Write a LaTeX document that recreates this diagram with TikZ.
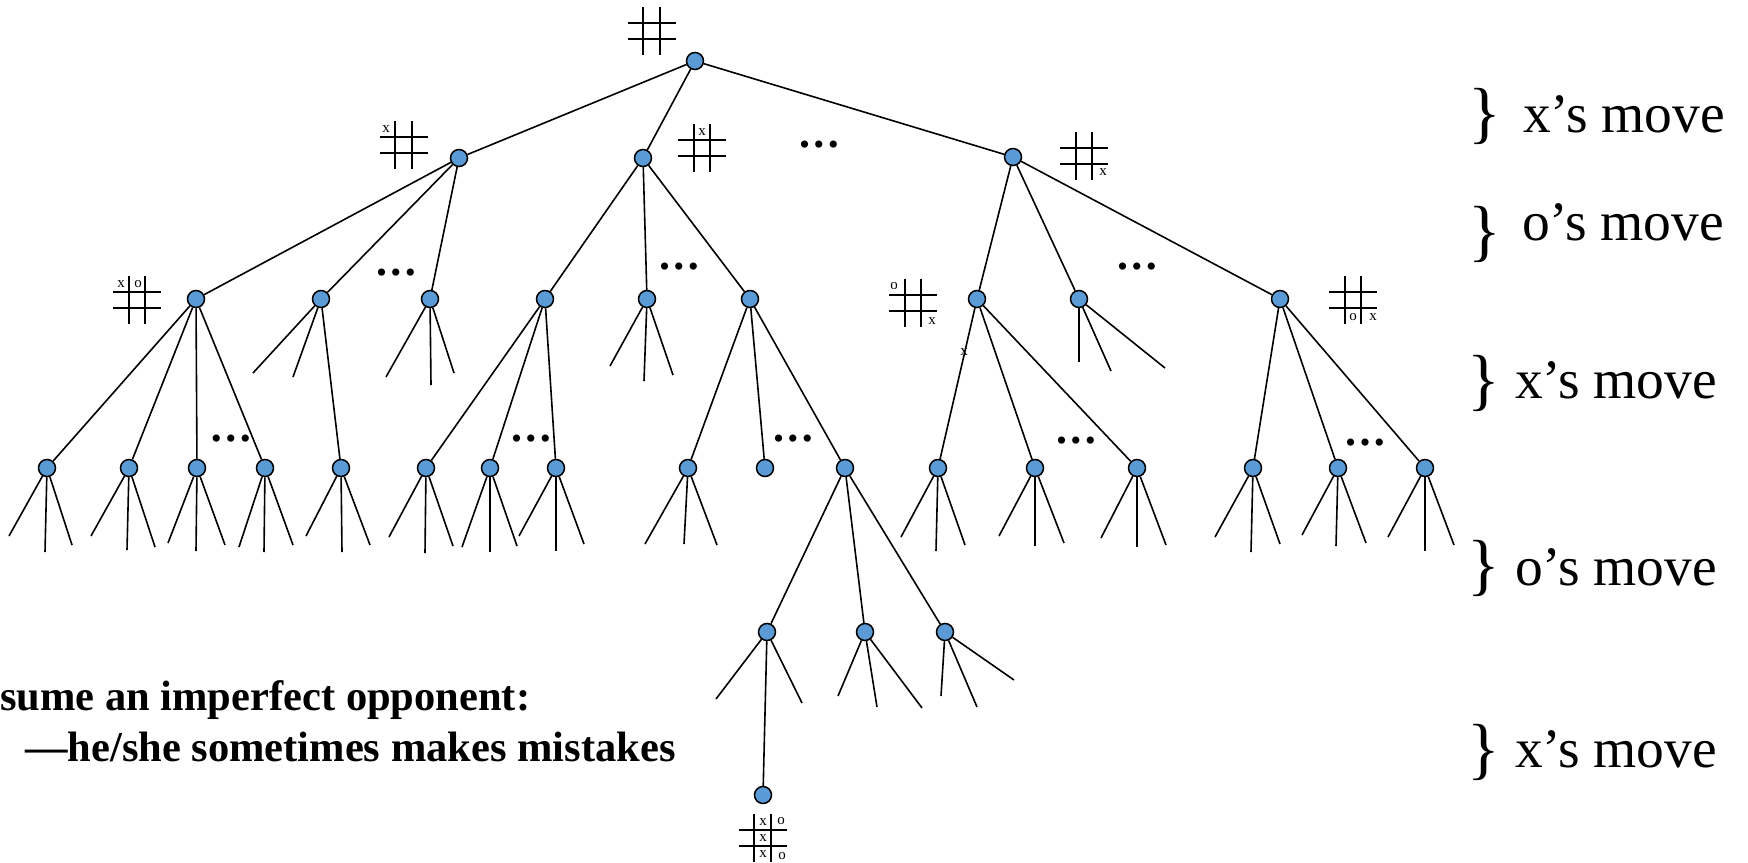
\documentclass[tikz,border=0pt]{standalone}
\usepackage{fontspec}
\setmainfont{Liberation Serif}
\definecolor{nodeblue}{RGB}{91,155,213}
\tikzset{
  tn/.style={circle, draw=black, line width=1.5pt, fill=nodeblue, minimum size=17pt, inner sep=0pt},
  edge/.style={line width=1.6pt, black},
  gridline/.style={line width=2pt, black},
  cellsym/.style={inner sep=0pt, font=\fontsize{15}{15}\selectfont},
  dotsnode/.style={inner sep=0pt, font=\fontsize{30}{30}\selectfont},
  movelabel/.style={anchor=base west, inner sep=0pt, font=\fontsize{55.5}{60}\selectfont},
  bracenode/.style={inner sep=0pt, font=\fontsize{68}{70}\selectfont},
  boldtext/.style={anchor=base west, inner sep=0pt, font=\fontsize{42.5}{51}\selectfont\bfseries},
  pics/ttt/.style={code={
    \draw[gridline] (-24,-8.25) -- (24,-8.25) (-24,8.25) -- (24,8.25)
                    (-8.25,-24) -- (-8.25,24) (8.25,-24) -- (8.25,24);
  }}
}
\newcommand\freeend[3]{\coordinate (#1) at #2; \draw[edge] (#3) -- (#1);}
\newcommand\threedots{\textbullet\hspace{4pt}\textbullet\hspace{4pt}\textbullet}
\begin{document}
\begin{tikzpicture}[x=1pt,y=-1pt]
\useasboundingbox (0,0) rectangle (1748,862);

% ---------- nodes ----------
\node[tn] (r) at (695,61) {};
\node[tn] (A) at (459,158) {};
\node[tn] (B) at (643,158) {};
\node[tn] (C) at (1013,157) {};
\node[tn] (A1) at (196,299) {};
\node[tn] (A2) at (321,299) {};
\node[tn] (A3) at (430,299) {};
\node[tn] (B1) at (545,299) {};
\node[tn] (B2) at (647,299) {};
\node[tn] (B3) at (750,299) {};
\node[tn] (C1) at (977,299) {};
\node[tn] (C2) at (1079,299) {};
\node[tn] (C3) at (1280,299) {};
\node[tn] (N1) at (47,468) {};
\node[tn] (N2) at (129,468) {};
\node[tn] (N3) at (197,468) {};
\node[tn] (N4) at (265,468) {};
\node[tn] (N5) at (341,468) {};
\node[tn] (N6) at (426,468) {};
\node[tn] (N7) at (490,468) {};
\node[tn] (N8) at (556,468) {};
\node[tn] (N9) at (688,468) {};
\node[tn] (N10) at (765,468) {};
\node[tn] (N11) at (845,468) {};
\node[tn] (N12) at (938,468) {};
\node[tn] (N13) at (1035,468) {};
\node[tn] (N14) at (1137,468) {};
\node[tn] (N15) at (1253,468) {};
\node[tn] (N16) at (1338,468) {};
\node[tn] (N17) at (1425,468) {};
\node[tn] (L1) at (767,632) {};
\node[tn] (L2) at (865,632) {};
\node[tn] (L3) at (945,632) {};
\node[tn] (M) at (763,795) {};

% ---------- edges ----------
\draw[edge] (r) -- (A); \draw[edge] (r) -- (B); \draw[edge] (r) -- (C);
\draw[edge] (A) -- (A1); \draw[edge] (A) -- (A2); \draw[edge] (A) -- (A3);
\draw[edge] (B) -- (B1); \draw[edge] (B) -- (B2); \draw[edge] (B) -- (B3);
\draw[edge] (C) -- (C1); \draw[edge] (C) -- (C2); \draw[edge] (C) -- (C3);
\draw[edge] (A1) -- (N1); \draw[edge] (A1) -- (N2); \draw[edge] (A1) -- (N3); \draw[edge] (A1) -- (N4);
\draw[edge] (A2) -- (N5);
\draw[edge] (B1) -- (N6); \draw[edge] (B1) -- (N7); \draw[edge] (B1) -- (N8);
\draw[edge] (B3) -- (N9); \draw[edge] (B3) -- (N10); \draw[edge] (B3) -- (N11);
\draw[edge] (C1) -- (N12); \draw[edge] (C1) -- (N13); \draw[edge] (C1) -- (N14);
\draw[edge] (C3) -- (N15); \draw[edge] (C3) -- (N16); \draw[edge] (C3) -- (N17);
\draw[edge] (N11) -- (L1); \draw[edge] (N11) -- (L2); \draw[edge] (N11) -- (L3);
\draw[edge] (L1) -- (M);

% ---------- free ends ----------
\freeend{a2a}{(253,373)}{A2} \freeend{a2b}{(293,377)}{A2}
\freeend{a3a}{(386,377)}{A3} \freeend{a3b}{(431,385)}{A3} \freeend{a3c}{(454,373)}{A3}
\freeend{b2a}{(610,366)}{B2} \freeend{b2b}{(644,381)}{B2} \freeend{b2c}{(673,375)}{B2}
\freeend{c2a}{(1079,362)}{C2} \freeend{c2b}{(1111,371)}{C2} \freeend{c2c}{(1165,368)}{C2}

\freeend{n1a}{(9,536)}{N1} \freeend{n1b}{(45,552)}{N1} \freeend{n1c}{(72,545)}{N1}
\freeend{n2a}{(91,536)}{N2} \freeend{n2b}{(127,550)}{N2} \freeend{n2c}{(155,547)}{N2}
\freeend{n3a}{(168,543)}{N3} \freeend{n3b}{(196,551)}{N3} \freeend{n3c}{(225,545)}{N3}
\freeend{n4a}{(239,547)}{N4} \freeend{n4b}{(264,552)}{N4} \freeend{n4c}{(293,545)}{N4}
\freeend{n5a}{(306,536)}{N5} \freeend{n5b}{(342,552)}{N5} \freeend{n5c}{(370,545)}{N5}
\freeend{n6a}{(389,537)}{N6} \freeend{n6b}{(425,553)}{N6} \freeend{n6c}{(453,546)}{N6}
\freeend{n7a}{(462,547)}{N7} \freeend{n7b}{(490,552)}{N7} \freeend{n7c}{(517,546)}{N7}
\freeend{n8a}{(519,536)}{N8} \freeend{n8b}{(556,551)}{N8} \freeend{n8c}{(584,544)}{N8}
\freeend{n9a}{(645,544)}{N9} \freeend{n9b}{(684,544)}{N9} \freeend{n9c}{(717,545)}{N9}
\freeend{n12a}{(901,537)}{N12} \freeend{n12b}{(936,551)}{N12} \freeend{n12c}{(965,545)}{N12}
\freeend{n13a}{(999,536)}{N13} \freeend{n13b}{(1035,546)}{N13} \freeend{n13c}{(1064,543)}{N13}
\freeend{n14a}{(1101,538)}{N14} \freeend{n14b}{(1137,547)}{N14} \freeend{n14c}{(1166,545)}{N14}
\freeend{n15a}{(1215,537)}{N15} \freeend{n15b}{(1251,552)}{N15} \freeend{n15c}{(1280,544)}{N15}
\freeend{n16a}{(1302,535)}{N16} \freeend{n16b}{(1336,546)}{N16} \freeend{n16c}{(1366,543)}{N16}
\freeend{n17a}{(1388,537)}{N17} \freeend{n17b}{(1425,551)}{N17} \freeend{n17c}{(1454,545)}{N17}

\freeend{l1a}{(716,699)}{L1} \freeend{l1b}{(802,703)}{L1}
\freeend{l2a}{(838,696)}{L2} \freeend{l2b}{(877,707)}{L2} \freeend{l2c}{(922,708)}{L2}
\freeend{l3a}{(941,696)}{L3} \freeend{l3b}{(977,707)}{L3} \freeend{l3c}{(1014,680)}{L3}

% ---------- dots ----------
\node[dotsnode] (d0) at (819,148) {\threedots};
\node[dotsnode] (d1) at (396,276) {\threedots};
\node[dotsnode] (d2) at (679,270) {\threedots};
\node[dotsnode] (d3) at (1137,270) {\threedots};
\node[dotsnode] (d4) at (231,442) {\threedots};
\node[dotsnode] (d5) at (531,442) {\threedots};
\node[dotsnode] (d6) at (793,442) {\threedots};
\node[dotsnode] (d7) at (1076,444) {\threedots};
\node[dotsnode] (d8) at (1365,446) {\threedots};

% ---------- boards ----------
\pic at (651.5,31) {ttt};
\pic at (403.5,145) {ttt};
\node[cellsym] (bAx) at (386,129) {x};
\pic at (702,148) {ttt};
\node[cellsym] (bBx) at (702,132) {x};
\pic at (1084,156) {ttt};
\node[cellsym] (bCx) at (1103,172) {x};
\pic at (137,300) {ttt};
\node[cellsym] (bA1x) at (121,284) {x};
\node[cellsym] (bA1o) at (138,284) {o};
\pic at (913,303) {ttt};
\node[cellsym] (bC1o) at (894,286) {o};
\node[cellsym] (bC1x) at (932,321) {x};
\pic at (1353,300) {ttt};
\node[cellsym] (bC3o) at (1353,317) {o};
\node[cellsym] (bC3x) at (1373,317) {x};
\pic at (762.5,838) {ttt};
\node[cellsym] (bMx1) at (763,822) {x};
\node[cellsym] (bMo1) at (781,821) {o};
\node[cellsym] (bMx2) at (763,838) {x};
\node[cellsym] (bMx3) at (763,854) {x};
\node[cellsym] (bMo2) at (782,856) {o};

\node[cellsym] (ex) at (964,352) {x};

% ---------- right labels ----------
\node[bracenode] (br1) at (1485,116) {\}};
\node[movelabel] (m1) at (1523,132) {x’s move};
\node[bracenode] (br2) at (1485,234) {\}};
\node[movelabel] (m2) at (1522,240) {o’s move};
\node[bracenode] (br3) at (1484,383) {\}};
\node[movelabel] (m3) at (1515,398) {x’s move};
\node[bracenode] (br4) at (1484,568) {\}};
\node[movelabel] (m4) at (1515,585) {o’s move};
\node[bracenode] (br5) at (1484,752) {\}};
\node[movelabel] (m5) at (1515,767) {x’s move};

% ---------- bold text ----------
\node[boldtext] (t1) at (0,710) {sume an imperfect opponent:};
\node[boldtext] (t2) at (25,761) {—he/she sometimes makes mistakes};
\end{tikzpicture}
\end{document}
